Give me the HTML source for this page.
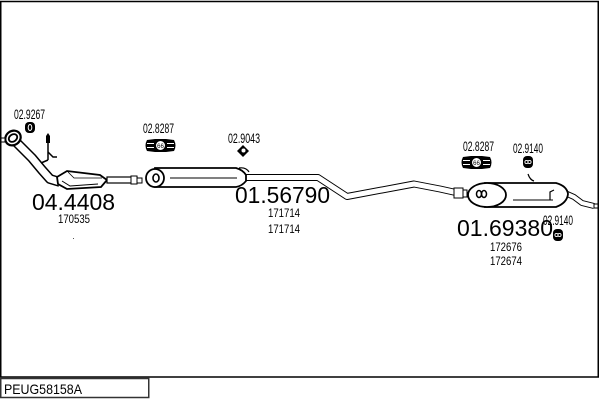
<!DOCTYPE html>
<html><head><meta charset="utf-8"><style>
html,body{margin:0;padding:0;background:#fff;}
svg{display:block;}
text{font-family:"Liberation Sans",Arial,sans-serif;fill:#000;}
</style></head><body>
<svg width="600" height="400" viewBox="0 0 600 400" xmlns="http://www.w3.org/2000/svg">
<!-- frame -->
<rect x="0.75" y="1.5" width="597.5" height="375.5" fill="none" stroke="#000" stroke-width="1.5"/>
<rect x="0.75" y="378.5" width="148" height="19" fill="none" stroke="#333" stroke-width="1.5"/>
<text x="4" y="394" font-size="14" textLength="78" lengthAdjust="spacingAndGlyphs">PEUG58158A</text>

<!-- front pipe -->
<path d="M14,140 L32,158 L42,170 L50,179 L60,182" fill="none" stroke="#000" stroke-width="10" stroke-linejoin="round"/>
<path d="M14,140 L32,158 L42,170 L50,179 L60,182" fill="none" stroke="#fff" stroke-width="7" stroke-linejoin="round"/>
<!-- flange -->
<ellipse cx="13" cy="138" rx="8" ry="7" transform="rotate(-35 13 138)" fill="#fff" stroke="#000" stroke-width="2.2"/>
<ellipse cx="13" cy="138" rx="4.5" ry="3.5" transform="rotate(-35 13 138)" fill="none" stroke="#000" stroke-width="1.8"/>
<rect x="1" y="138" width="4" height="4" fill="#fff" stroke="#000" stroke-width="1"/>
<!-- sensor -->
<line x1="48" y1="140" x2="48" y2="160" stroke="#000" stroke-width="1.5"/>
<path d="M46,136 L48,133 L50,136 L50,143 L46,143 Z" fill="#000"/>
<path d="M48,152 L53,157 L57,157" fill="none" stroke="#000" stroke-width="1.5"/>
<line x1="41" y1="163" x2="48" y2="160" stroke="#000" stroke-width="1.5"/>
<!-- catalytic converter -->
<path d="M57,177 L67,171 L100,175 L107,180 L101,187 L67,189 L58,184 Z" fill="#fff" stroke="#000" stroke-width="1.8"/>
<path d="M62,181 L70,186 L98,184" fill="none" stroke="#000" stroke-width="1"/>
<path d="M68,172 L74,178 L102,178" fill="none" stroke="#000" stroke-width="0.8"/>
<!-- pipe to middle -->
<rect x="107" y="177" width="30" height="6" fill="#fff" stroke="#000" stroke-width="1.2"/>
<rect x="131" y="176" width="6" height="8" fill="#fff" stroke="#000" stroke-width="1"/>
<rect x="137" y="178" width="5" height="5" fill="#fff" stroke="#000" stroke-width="1"/>

<!-- main pipe between mufflers -->
<path d="M238,177.5 L318,177.5 L347,196.5 L414,184 L440,189 L458,193" fill="none" stroke="#000" stroke-width="7" stroke-linejoin="round"/>
<path d="M238,177.5 L318,177.5 L347,196.5 L414,184 L440,189 L458,193" fill="none" stroke="#fff" stroke-width="5" stroke-linejoin="round"/>

<!-- middle muffler -->
<path d="M155,168 L236,168 Q243,170 246,175 L246,181 Q242,186 236,187 L155,187 Z" fill="#fff" stroke="#000" stroke-width="1.8"/>
<ellipse cx="155" cy="178" rx="9" ry="9" fill="#fff" stroke="#000" stroke-width="1.8"/>
<ellipse cx="156" cy="178" rx="3" ry="4" fill="none" stroke="#000" stroke-width="1.6"/>
<line x1="170" y1="178" x2="237" y2="178" stroke="#000" stroke-width="1"/>
<path d="M239,168 Q246,167 249,172" fill="none" stroke="#000" stroke-width="1.2"/>

<!-- rear muffler -->
<rect x="454" y="188" width="9" height="10" fill="#fff" stroke="#000" stroke-width="1"/>
<rect x="463" y="190" width="4" height="7" fill="#fff" stroke="#000" stroke-width="1"/>
<path d="M565,193 L574,197 L582,203 L594,206" fill="none" stroke="#000" stroke-width="6" stroke-linejoin="round"/>
<path d="M565,193 L574,197 L582,203 L594,206" fill="none" stroke="#fff" stroke-width="4" stroke-linejoin="round"/>
<rect x="594" y="204" width="4" height="4" fill="#fff" stroke="#000" stroke-width="1"/>
<path d="M485,183 L556,183 Q567,186 568,194 Q567,203 556,207 L485,207 Z" fill="#fff" stroke="#000" stroke-width="1.8"/>
<ellipse cx="487" cy="195" rx="19" ry="12" fill="#fff" stroke="#000" stroke-width="1.8"/>
<ellipse cx="479" cy="194" rx="2.5" ry="3.5" fill="none" stroke="#000" stroke-width="1.5"/>
<ellipse cx="484" cy="194" rx="2.5" ry="3.5" fill="none" stroke="#000" stroke-width="1.5"/>
<line x1="513" y1="200" x2="553" y2="200" stroke="#000" stroke-width="1"/>
<path d="M550,200 L550,192 L554,190" fill="none" stroke="#000" stroke-width="1.2"/>
<path d="M528,174 Q530,180 534,181" fill="none" stroke="#000" stroke-width="1.2"/>

<!-- clamps 02.8287 -->
<g transform="translate(145,139)">
<path d="M2,1 L10,0 L21,0 L29,1 Q32,6.5 29,12 L21,13 L10,13 L2,12 Q-1,6.5 2,1 Z" fill="#000"/>
<line x1="2" y1="4.5" x2="9" y2="4.5" stroke="#fff" stroke-width="1"/>
<line x1="2" y1="8.5" x2="9" y2="8.5" stroke="#fff" stroke-width="1"/>
<line x1="22" y1="4.5" x2="29" y2="4.5" stroke="#fff" stroke-width="1"/>
<line x1="22" y1="8.5" x2="29" y2="8.5" stroke="#fff" stroke-width="1"/>
<circle cx="15.5" cy="6.5" r="5" fill="#fff" stroke="#000" stroke-width="1"/>
<text x="15.5" y="9" font-size="6" text-anchor="middle">66</text>
</g>
<g transform="translate(461,156)">
<path d="M2,1 L10,0 L21,0 L29,1 Q32,6.5 29,12 L21,13 L10,13 L2,12 Q-1,6.5 2,1 Z" fill="#000"/>
<line x1="2" y1="4.5" x2="9" y2="4.5" stroke="#fff" stroke-width="1"/>
<line x1="2" y1="8.5" x2="9" y2="8.5" stroke="#fff" stroke-width="1"/>
<line x1="22" y1="4.5" x2="29" y2="4.5" stroke="#fff" stroke-width="1"/>
<line x1="22" y1="8.5" x2="29" y2="8.5" stroke="#fff" stroke-width="1"/>
<circle cx="15.5" cy="6.5" r="5" fill="#fff" stroke="#000" stroke-width="1"/>
<text x="15.5" y="9" font-size="6" text-anchor="middle">66</text>
</g>
<!-- rubber mounts -->
<rect x="25" y="122" width="10" height="11" rx="4" fill="#000"/>
<ellipse cx="30" cy="127.5" rx="1.8" ry="3" fill="none" stroke="#fff" stroke-width="1"/>
<rect x="523" y="156" width="10" height="12" rx="4" fill="#000"/>
<circle cx="526.5" cy="162" r="1.6" fill="none" stroke="#fff" stroke-width="0.9"/>
<circle cx="529.5" cy="162" r="1.6" fill="none" stroke="#fff" stroke-width="0.9"/>
<rect x="553" y="229" width="10" height="12" rx="4" fill="#000"/>
<circle cx="556.5" cy="235" r="1.6" fill="none" stroke="#fff" stroke-width="0.9"/>
<circle cx="559.5" cy="235" r="1.6" fill="none" stroke="#fff" stroke-width="0.9"/>
<!-- diamond 02.9043 -->
<path d="M243,145 L249,151 L243,157 L237,151 Z" fill="#000"/>
<circle cx="243.5" cy="150.5" r="2" fill="#fff"/>

<!-- small labels -->
<text x="14" y="119" font-size="14" textLength="31" lengthAdjust="spacingAndGlyphs">02.9267</text>
<text x="143" y="133" font-size="14" textLength="31" lengthAdjust="spacingAndGlyphs">02.8287</text>
<text x="228" y="143" font-size="14" textLength="32" lengthAdjust="spacingAndGlyphs">02.9043</text>
<text x="463" y="151" font-size="14" textLength="31" lengthAdjust="spacingAndGlyphs">02.8287</text>
<text x="513" y="153" font-size="14" textLength="30" lengthAdjust="spacingAndGlyphs">02.9140</text>
<text x="543" y="225" font-size="14" textLength="30" lengthAdjust="spacingAndGlyphs">02.9140</text>

<!-- big numbers -->
<text x="32" y="210" font-size="23" textLength="83" lengthAdjust="spacingAndGlyphs">04.4408</text>
<text x="235" y="203" font-size="23" textLength="95" lengthAdjust="spacingAndGlyphs">01.56790</text>
<text x="457" y="236" font-size="23" textLength="96" lengthAdjust="spacingAndGlyphs">01.69380</text>

<!-- ref numbers -->
<text x="58" y="223" font-size="12" textLength="32" lengthAdjust="spacingAndGlyphs">170535</text>
<text x="268" y="217" font-size="12" textLength="32" lengthAdjust="spacingAndGlyphs">171714</text>
<text x="268" y="233" font-size="12" textLength="32" lengthAdjust="spacingAndGlyphs">171714</text>
<text x="490" y="251" font-size="12" textLength="32" lengthAdjust="spacingAndGlyphs">172676</text>
<text x="490" y="265" font-size="12" textLength="32" lengthAdjust="spacingAndGlyphs">172674</text>
<rect x="73" y="238" width="1" height="1" fill="#555"/>
</svg>
</body></html>
